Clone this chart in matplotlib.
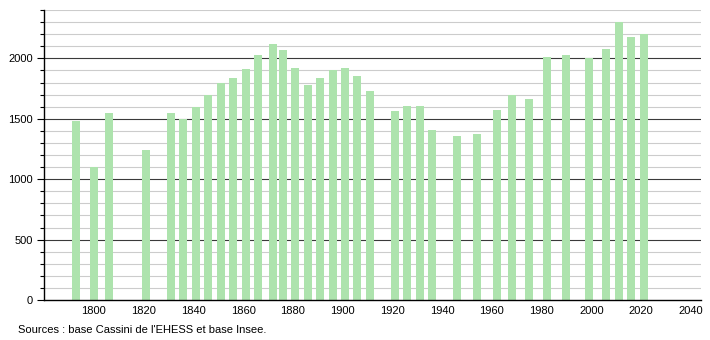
import matplotlib.pyplot as plt
from matplotlib.ticker import MultipleLocator

years = [1793, 1800, 1806, 1821, 1831, 1836, 1841, 1846, 1851, 1856, 1861, 1866,
         1872, 1876, 1881, 1886, 1891, 1896, 1901, 1906, 1911, 1921, 1926, 1931,
         1936, 1946, 1954, 1962, 1968, 1975, 1982, 1990, 1999, 2006, 2011, 2016, 2021]
population = [1480, 1100, 1545, 1240, 1545, 1500, 1600, 1700, 1800, 1835, 1910, 2030,
              2120, 2070, 1920, 1780, 1838, 1900, 1920, 1855, 1730, 1563, 1602, 1602,
              1403, 1358, 1372, 1572, 1699, 1663, 2012, 2029, 2004, 2079, 2298, 2179, 2201]
x_ticks = [1800, 1820, 1840, 1860, 1880, 1900, 1920, 1940, 1960, 1980, 2000, 2020, 2040]
y_ticks = [0, 500, 1000, 1500, 2000]

plt.rcParams['font.family'] = ['Liberation Sans', 'DejaVu Sans']

fig = plt.figure(figsize=(7.1, 3.4), dpi=100)
ax = fig.add_axes([0.062, 0.1176, 0.925, 0.853])

# grid: light every 100, dark every 500
for v in range(100, 2500, 100):
    if v % 500 == 0:
        ax.axhline(v, color='#3a3a3a', lw=0.8, zorder=1)
    else:
        ax.axhline(v, color='#cccccc', lw=0.8, zorder=1)

ax.bar(years, population, width=3.2, color='#ade3ad', zorder=2)

ax.set_xlim(1780, 2044)
ax.set_ylim(0, 2400)
ax.set_xticks(x_ticks)
ax.set_yticks(y_ticks)
ax.yaxis.set_minor_locator(MultipleLocator(100))
ax.tick_params(axis='x', length=0, labelsize=8, pad=4)
ax.tick_params(axis='y', which='major', length=5, width=0.8, labelsize=8, pad=3)
ax.tick_params(axis='y', which='minor', length=3, width=0.8)

ax.spines['top'].set_visible(False)
ax.spines['right'].set_visible(False)
ax.spines['left'].set_linewidth(1)
ax.spines['bottom'].set_linewidth(1)

fig.text(0.025, 0.02, "Sources : base Cassini de l'EHESS et base Insee.", fontsize=8)

fig.savefig('out.png', dpi=100)
